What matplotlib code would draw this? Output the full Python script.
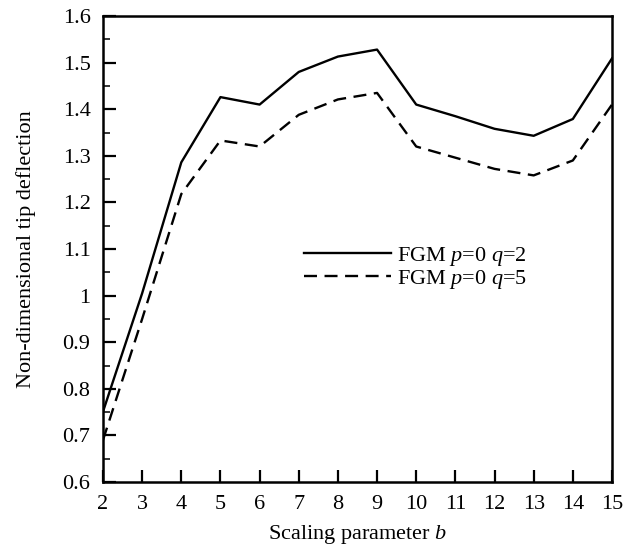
import matplotlib
matplotlib.use("Agg")
import matplotlib.pyplot as plt
from matplotlib.ticker import MultipleLocator

# Tip deflection vs. scaling parameter b for two FGM grading exponents
b_values = [2, 3, 4, 5, 6, 7, 8, 9, 10, 11, 12, 13, 14, 15]
deflection_q2 = [0.751, 1.005, 1.286, 1.426, 1.410, 1.480, 1.513, 1.528,
                 1.410, 1.385, 1.358, 1.343, 1.379, 1.509]
deflection_q5 = [0.690, 0.950, 1.218, 1.333, 1.320, 1.388, 1.421, 1.435,
                 1.320, 1.296, 1.272, 1.258, 1.290, 1.410]

x_ticks = list(range(2, 16))
y_ticks = [0.6, 0.7, 0.8, 0.9, 1.0, 1.1, 1.2, 1.3, 1.4, 1.5, 1.6]
y_tick_labels = ["0.6", "0.7", "0.8", "0.9", "1", "1.1", "1.2", "1.3", "1.4", "1.5", "1.6"]

FS = 16

plt.rcParams["font.family"] = "Liberation Serif"
plt.rcParams["mathtext.fontset"] = "custom"
plt.rcParams["mathtext.rm"] = "Liberation Serif"
plt.rcParams["mathtext.it"] = "Liberation Serif:italic"

fig = plt.figure(figsize=(6.33, 5.47), dpi=100)
ax = fig.add_axes([0.1627, 0.1188, 0.8041, 0.8519])

ax.plot(b_values, deflection_q2, color="black", linewidth=1.7,
        label=r"FGM $p$=0 $q$=2")
ax.plot(b_values, deflection_q5, color="black", linewidth=1.7,
        dashes=(5.5, 3.2), label=r"FGM $p$=0 $q$=5")

ax.set_xlim(2, 15)
ax.set_ylim(0.6, 1.6)
ax.set_xticks(x_ticks)
ax.set_yticks(y_ticks)
ax.set_yticklabels(y_tick_labels)
ax.yaxis.set_minor_locator(MultipleLocator(0.05))

ax.tick_params(axis="both", which="major", direction="in", length=9,
               width=1.6, labelsize=FS)
ax.tick_params(axis="y", which="minor", direction="in", length=5, width=1.1)
ax.tick_params(axis="x", pad=9)
ax.tick_params(axis="y", pad=9)
for spine in ax.spines.values():
    spine.set_linewidth(1.8)

ax.set_xlabel(r"Scaling parameter $b$", fontsize=FS, labelpad=7)
ax.set_ylabel("Non-dimensional tip deflection", fontsize=FS, labelpad=19)

ax.legend(loc="center left", bbox_to_anchor=(0.395, 0.459), frameon=False,
          fontsize=FS, handlelength=3.9, handletextpad=0.3,
          labelspacing=0.0, borderpad=0.0, borderaxespad=0.0)

fig.savefig("out.png", dpi=100)
